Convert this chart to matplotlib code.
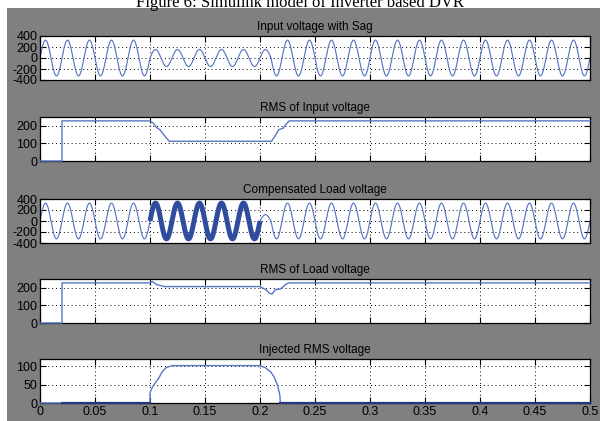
import numpy as np
import matplotlib
matplotlib.use("Agg")
import matplotlib.pyplot as plt
from matplotlib.patches import Rectangle

# ---------------- data ----------------
FREQ = 50.0                      # 25 cycles in 0.5 s
T_END = 0.5
# peak value of each half-cycle (50 half-cycles, 0.01 s each)
input_peaks = [325] * 10 + [155] * 11 + [325] * 29
load_peaks = [325] * 20 + [115] + [325] * 29
thick_from, thick_to = 0.1, 0.2    # PWM-ripple band in compensated voltage

rms_in_t = [0, 0.02, 0.02, 0.1, 0.103, 0.106, 0.109, 0.113, 0.1175,
            0.2105, 0.214, 0.217, 0.221, 0.224, 0.2265, 0.5]
rms_in_v = [0, 0, 228, 228, 215, 190, 178, 145, 112,
            112, 145, 178, 186, 210, 228, 228]

rms_load_t = [0, 0.02, 0.02, 0.1, 0.102, 0.106, 0.109, 0.113, 0.2, 0.205,
              0.209, 0.211, 0.214, 0.218, 0.22, 0.223, 0.226, 0.5]
rms_load_v = [0, 0, 228, 228, 236, 218, 214, 207, 207, 190,
              168, 165, 190, 192, 200, 218, 228, 228]

inj_t = [0, 0.02, 0.1, 0.1, 0.102, 0.105, 0.108, 0.111, 0.115, 0.12,
         0.2, 0.205, 0.21, 0.213, 0.216, 0.218, 0.2185, 0.5]
inj_v = [0, 0, 0, 28, 42, 56, 68, 85, 97, 102,
         102, 96, 84, 70, 48, 22, 0, 0]
inj_dark_segments = [(0.02, 0.1), (0.2185, 0.5)]

titles = ["Input voltage with Sag", "RMS of Input voltage",
          "Compensated Load voltage", "RMS of Load voltage",
          "Injected RMS voltage"]
ylims = [(-400, 400), (0, 250), (-400, 400), (0, 250), (0, 120)]
yticks = [[-400, -200, 0, 200, 400], [0, 100, 200], [-400, -200, 0, 200, 400],
          [0, 100, 200], [0, 50, 100]]
xticks = [0, 0.05, 0.1, 0.15, 0.2, 0.25, 0.3, 0.35, 0.4, 0.45, 0.5]
xticklabels = ["0", "0.05", "0.1", "0.15", "0.2", "0.25", "0.3", "0.35",
               "0.4", "0.45", "0.5"]
fig_title = "Figure 6: Simulink model of Inverter based DVR"

LIGHT = "#5877c6"
DARK = "#2f4c9f"
NAVY = "#24347f"
GRAY = "#808080"


def waveform(peaks):
    t = np.linspace(0, T_END, 5001)
    k = np.minimum((t * 2 * FREQ).astype(int), len(peaks) - 1)
    amp = np.asarray(peaks, dtype=float)[k]
    return t, amp * np.sin(2 * np.pi * FREQ * t)


# ---------------- figure ----------------
W, H = 600, 421
fig = plt.figure(figsize=(W / 100, H / 100), dpi=100, facecolor="white")
fig.patches.append(Rectangle((7 / W, 0), 1 - 7 / W, 1 - 8 / H,
                             transform=fig.transFigure, facecolor=GRAY,
                             edgecolor="none", zorder=-10))
fig.text(0.5, 1 - 7 / H, fig_title, ha="center", va="baseline",
         fontsize=12, family=["Liberation Serif", "DejaVu Serif"],
         color="black", zorder=5)

tick_font = ["Liberation Sans Narrow", "Liberation Sans", "DejaVu Sans"]
left, right = 40, 590
tops = [36, 117, 199, 279, 359]
hgt = 44

axes = []
for i, top in enumerate(tops):
    ax = fig.add_axes([left / W, 1 - (top + hgt) / H, (right - left) / W, hgt / H])
    ax.set_facecolor("white")
    ax.set_xlim(0, T_END)
    ax.set_ylim(*ylims[i])
    ax.set_yticks(yticks[i])
    ax.set_yticklabels([str(v) for v in yticks[i]], family=tick_font, fontsize=9)
    ax.set_xticks(xticks)
    if i == 4:
        ax.set_xticklabels(xticklabels, family=tick_font, fontsize=9)
    else:
        ax.set_xticklabels([])
    ax.tick_params(direction="in", length=4, width=0.8, top=True, right=True,
                   pad=2, colors="black")
    ax.grid(True, linestyle=(0, (1, 3)), color="black", linewidth=0.7)
    for s in ax.spines.values():
        s.set_linewidth(0.9)
        s.set_color("black")
    ax.set_title(titles[i], family=tick_font, fontsize=8.5, pad=4)
    axes.append(ax)

# Input voltage with sag
t, v = waveform(input_peaks)
axes[0].plot(t, v, color=LIGHT, lw=0.85)

# RMS of input
axes[1].plot(rms_in_t, rms_in_v, color=LIGHT, lw=1.0, clip_on=False, zorder=3)

# Compensated load voltage
t, v = waveform(load_peaks)
axes[2].plot(t, v, color=LIGHT, lw=0.85)
m = (t >= thick_from) & (t <= thick_to)
axes[2].plot(t[m], v[m], color=DARK, lw=3.6, solid_capstyle="butt")

# RMS of load
axes[3].plot(rms_load_t, rms_load_v, color=LIGHT, lw=1.0, clip_on=False, zorder=3)

# Injected RMS
axes[4].plot(inj_t, inj_v, color=LIGHT, lw=1.0, clip_on=False, zorder=3)
for a, b in inj_dark_segments:
    axes[4].plot([a, b], [0.8, 0.8], color=NAVY, lw=1.6, clip_on=False, zorder=4)

fig.savefig("out.png", dpi=100, facecolor="white")
